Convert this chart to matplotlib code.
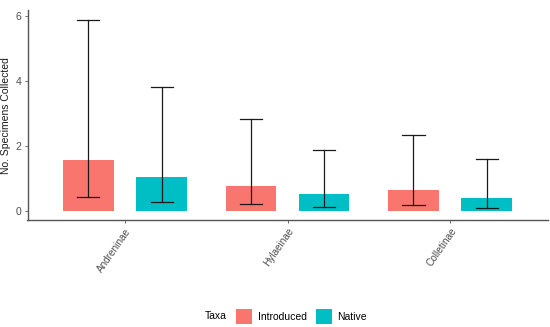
import numpy as np
import matplotlib
matplotlib.use("Agg")
import matplotlib.pyplot as plt
import matplotlib.patches as mpatches
import matplotlib.transforms as mtransforms
from matplotlib.offsetbox import HPacker

# ---------------------------------------------------------------------------
# Data
# ---------------------------------------------------------------------------
subfamilies = ["Andreninae", "Hylaeinae", "Colletinae"]
taxa = ["Introduced", "Native"]
introduced_mean = [1.57, 0.75, 0.62]
introduced_lo = [0.41, 0.19, 0.16]
introduced_hi = [5.89, 2.82, 2.34]
native_mean = [1.03, 0.50, 0.40]
native_lo = [0.27, 0.11, 0.08]
native_hi = [3.82, 1.87, 1.59]

# ---------------------------------------------------------------------------
# Style
# ---------------------------------------------------------------------------
plt.rcParams.update({
    "font.family": ["Liberation Sans", "DejaVu Sans"],
    "font.size": 7.5,
})
COLORS = {"Introduced": "#F8766D", "Native": "#00BFC4"}
TEXT = "#4D4D4D"
AXIS = "#555555"

fig = plt.figure(figsize=(5.5, 3.27), dpi=100, facecolor="white")
ax = fig.add_axes([0.05, 0.327, 0.9455, 0.642])

x = np.arange(len(subfamilies))
offset = 0.225
bar_w = 0.31
cap = 0.068

series = [
    ("Introduced", -offset, introduced_mean, introduced_lo, introduced_hi),
    ("Native", offset, native_mean, native_lo, native_hi),
]
for name, dx, mean, lo, hi in series:
    xs = x + dx
    ax.bar(xs, mean, width=bar_w, color=COLORS[name], zorder=2, linewidth=0)
    for xi, l, h in zip(xs, lo, hi):
        ax.plot([xi, xi], [l, h], color="#1A1A1A", lw=0.9, zorder=3)
        ax.plot([xi - cap, xi + cap], [l, l], color="#1A1A1A", lw=0.9, zorder=3)
        ax.plot([xi - cap, xi + cap], [h, h], color="#1A1A1A", lw=0.9, zorder=3)

ax.set_xlim(-0.6, len(subfamilies) - 0.4)
ax.set_ylim(-0.295, 6.18)
ax.set_yticks([0, 2, 4, 6])
ax.set_xticks(x)
ax.set_xticklabels(subfamilies, rotation=55, ha="right", va="top",
                   rotation_mode="anchor", color=TEXT, fontsize=7.2)
shift = mtransforms.ScaledTranslation(5 / 100, 0, fig.dpi_scale_trans)
for lab in ax.get_xticklabels():
    lab.set_transform(lab.get_transform() + shift)
ax.tick_params(axis="y", colors=AXIS, labelsize=7.5, length=2.5, width=0.6, pad=2)
ax.tick_params(axis="x", colors=AXIS, length=2.5, width=0.6, pad=2)
for lab in ax.get_xticklabels() + ax.get_yticklabels():
    lab.set_color(TEXT)

for side in ("top", "right"):
    ax.spines[side].set_visible(False)
for side in ("left", "bottom"):
    ax.spines[side].set_color(AXIS)
    ax.spines[side].set_linewidth(1.0)

ax.set_ylabel("No. Specimens Collected", fontsize=7.5, color="#1A1A1A", labelpad=3)

# Legend: title to the left of the entries, ggplot style
handles = [mpatches.Patch(fc=COLORS[t], ec="none", label=t) for t in taxa]
leg = fig.legend(handles=handles, loc="center", bbox_to_anchor=(0.52, 0.033),
                 ncol=2, frameon=False, fontsize=7.5, handlelength=1.5,
                 handleheight=1.9, handletextpad=0.55, columnspacing=0.9,
                 title="Taxa")
leg.get_title().set_fontsize(7.5)
leg._legend_box._children = [HPacker(pad=0, sep=7, align="center",
                                     children=[leg._legend_title_box,
                                               leg._legend_handle_box])]

fig.savefig("out.png", dpi=100, facecolor="white")
